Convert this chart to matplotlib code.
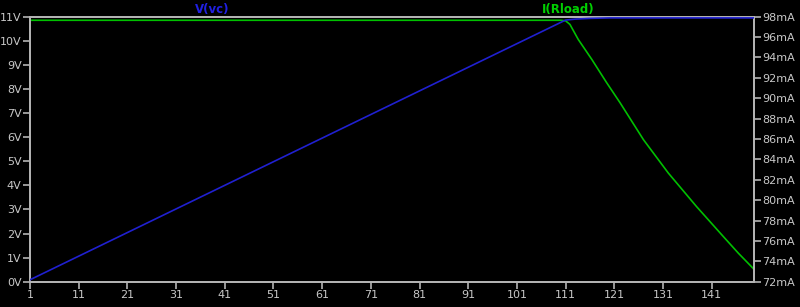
import matplotlib.pyplot as plt
from matplotlib.ticker import FixedLocator

# values (LTspice style plot)
v_x = [1, 111, 113, 116, 120, 149.7]
v_vc = [0.08, 10.86, 10.90, 10.93, 10.95, 10.95]

i_x = [1, 110, 111, 111.9, 113.6, 116.4, 119.4, 122.2, 127.0, 132.1, 137.9, 143.4, 146.5, 149.7]
i_rload = [97.65, 97.65, 97.6, 97.24, 95.77, 93.80, 91.55, 89.55, 85.93, 82.66, 79.37, 76.43, 74.79, 73.22]

x_ticks = [1, 11, 21, 31, 41, 51, 61, 71, 81, 91, 101, 111, 121, 131, 141]
v_ticks = list(range(0, 12))
i_ticks = list(range(72, 100, 2))

grey = '#b4b4b4'
txt = '#c8c8c8'

fig = plt.figure(figsize=(8, 3.07), dpi=100, facecolor='black')
ax = fig.add_axes([30/800, (307-281.7)/307, (754-30)/800, (281.7-16.7)/307])
ax.set_facecolor('black')
ax2 = ax.twinx()

ax.plot(v_x, v_vc, color='#2020d0', lw=1.2, zorder=3)
ax2.plot(i_x, i_rload, color='#00c000', lw=1.2)
ax.set_zorder(ax2.get_zorder() + 1)
ax.patch.set_visible(False)
ax2.patch.set_facecolor('black')

ax.set_xlim(1, 149.7)
ax.set_ylim(0, 11)
ax2.set_ylim(72, 98)

ax.xaxis.set_major_locator(FixedLocator(x_ticks))
ax.set_yticks(v_ticks)
ax.set_yticklabels([f'{v}V' for v in v_ticks])
ax2.set_yticks(i_ticks)
ax2.set_yticklabels([f'{v}mA' for v in i_ticks])

for a in (ax, ax2):
    for s in a.spines.values():
        s.set_color(grey)
        s.set_linewidth(1.3)
    a.tick_params(colors=grey, labelcolor=txt, length=5, width=1.2,
                  labelsize=8, direction='out', pad=1)

fig.text(212/800, 1 - 9/307, 'V(vc)', color='#2020e0', fontsize=8.5,
         fontweight='bold', ha='center', va='center')
fig.text(568/800, 1 - 9/307, 'I(Rload)', color='#00d000', fontsize=8.5,
         fontweight='bold', ha='center', va='center')

fig.savefig('out.png', dpi=100, facecolor='black')
